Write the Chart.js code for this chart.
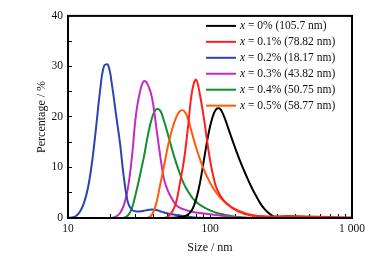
<!DOCTYPE html>
<html>
<head>
<meta charset="utf-8">
<script src="https://cdn.jsdelivr.net/npm/chart.js@4"></script>
<style>
html,body{margin:0;padding:0;background:#fff;}
#wrap{width:392px;height:260px;position:relative;}
</style>
</head>
<body>
<div id="wrap"><canvas id="c" width="392" height="260"></canvas></div>
<script>
// particle size grid (nm)
const sizes = [10.00,10.67,11.39,12.15,12.96,13.83,14.76,15.75,16.80,17.93,19.13,20.41,21.78,23.24,24.80,26.46,28.23,30.13,32.14,34.30,36.60,39.05,41.67,44.46,47.44,50.62,54.01,57.63,61.49,65.62,70.01,74.71,79.71,85.06,90.76,96.84,103.3,110.2,117.6,125.5,133.9,142.9,152.5,162.7,173.6,185.2,197.6,210.9,225.0,240.1,256.2,273.3,291.6,350,500,700,1000];

// percentage values per series
const x0 = [0,0,0,0,0,0,0,0,0,0,0,0,0,0,0,0,0,0,0,0,0,0,0,0,0,
  0.03,0.06,0.1,0.18,0.3,0.7,1.6,3.6,7.0,11.6,16.2,19.6,21.5,21.6,20.1,17.9,15.6,13.4,11.3,9.4,7.6,5.9,4.4,3.0,1.9,1.1,0.5,0.1,
  null,null,null,null];
const x01 = [0,0,0,0,0,0,0,0,0,0,0,0,0,0,0,0,0,0,0,0,0,0,0,0,0,
  0.3,1.2,3.0,7.0,11.5,18.0,25.0,27.4,24.3,19.6,14.0,9.4,6.2,4.5,3.4,2.6,2.0,1.55,1.15,0.85,0.65,0.5,0.42,0.36,0.33,0.32,0.32,0.33,
  0.4,0.3,0.2,0.1];
const x02 = [0,0.1,0.4,1.3,3.0,6.0,11.0,17.8,25.0,30.1,30.3,26.3,20.5,14.8,7.8,3.0,1.6,1.3,1.3,1.45,1.6,1.7,1.6,1.35,1.1,0.9,0.75,0.6,0.48,0.36,0.26,0.17,0.1,0.05,0.02,
  0,0,0,0,0,0,0,0,0,0,0,0,0,0,0,0,0,0,
  0,0,0,0];
const x03 = [0,0,0,0,0,0,0,0,0,0,0,
  0.05,0.3,1.0,2.6,6.0,12.2,20.5,25.0,27.1,26.3,23.8,18.4,12.6,7.7,5.3,3.8,2.6,2.0,1.7,1.45,1.25,1.1,1.0,0.88,0.77,0.67,0.57,0.48,0.4,0.32,0.24,0.16,0.08,0.03,
  0,0,0,0,0,0,0,0,
  0,0,0,0];
const x04 = [0,0,0,0,0,0,0,0,0,0,0,0,0,0,
  0.05,0.5,2.0,5.0,8.5,12.2,16.5,19.8,21.5,21.3,19.2,16.5,13.6,11.0,8.7,6.7,5.3,4.1,3.2,2.6,2.1,1.7,1.35,1.05,0.85,0.65,0.5,0.37,0.27,0.18,0.1,0.05,
  0,0,0,0,0,0,0,
  0,0,0,0];
const x05 = [0,0,0,0,0,0,0,0,0,0,0,0,0,0,0,0,0,0,0,0,
  0.05,0.7,2.7,6.4,10.3,14.3,17.5,19.8,21.2,21.2,19.6,16.8,14.0,11.6,9.5,7.8,6.3,5.1,4.1,3.3,2.7,2.1,1.7,1.35,1.05,0.8,0.6,0.45,0.35,0.27,0.2,0.15,0.1,
  0.03,0,0,0];

const dopings = ['0%','0.1%','0.2%','0.3%','0.4%','0.5%'];
const meanSizes = ['105.7','78.82','18.17','43.82','50.75','58.77'];
const seriesValues = [x0, x01, x02, x03, x04, x05];
const seriesColors = ['#000000','#ff1f1f','#2a44b2','#c42ac4','#128f30','#ff5a0a'];
const drawOrder = [2,0,3,4,5,1];

const xTickValues = [10, 100, 1000];
const xTickTexts = ['10', '100', '1 000'];
const yTickValues = [0, 10, 20, 30, 40];

const SERIF = '"Liberation Serif", "Times New Roman", serif';

const datasets = seriesValues.map((vals, i) => ({
  label: 'x = ' + dopings[i] + ' (' + meanSizes[i] + ' nm)',
  data: sizes.map((s, j) => ({x: s, y: vals[j]})),
  borderColor: seriesColors[i],
  backgroundColor: seriesColors[i],
  borderWidth: 2,
  pointRadius: 0,
  tension: 0.4,
  fill: false,
  spanGaps: false,
  order: drawOrder[i]
}));

const framePlugin = {
  id: 'frame',
  afterDatasetsDraw(chart) {
    const {ctx, chartArea: a} = chart;
    ctx.save();
    ctx.strokeStyle = '#000';
    ctx.lineWidth = 2;
    ctx.strokeRect(a.left, a.top, a.right - a.left, a.bottom - a.top);
    ctx.restore();
  }
};

const legendPlugin = {
  id: 'innerLegend',
  afterDatasetsDraw(chart) {
    const {ctx, chartArea: a} = chart;
    ctx.save();
    const x1 = a.right - 146, x2 = a.right - 116, tx = a.right - 112;
    for (let i = 0; i < dopings.length; i++) {
      const y = a.top + 10 + i * 15.95;
      ctx.strokeStyle = seriesColors[i];
      ctx.lineWidth = 2;
      ctx.beginPath();
      ctx.moveTo(x1, y);
      ctx.lineTo(x2, y);
      ctx.stroke();
      ctx.fillStyle = '#111';
      ctx.textBaseline = 'middle';
      ctx.textAlign = 'left';
      ctx.font = 'italic 11.5px ' + SERIF;
      ctx.fillText('x', tx, y);
      const w = ctx.measureText('x').width;
      ctx.font = '11.5px ' + SERIF;
      ctx.fillText(' = ' + dopings[i] + ' (' + meanSizes[i] + ' nm)', tx + w, y);
    }
    ctx.restore();
  }
};

new Chart(document.getElementById('c'), {
  type: 'line',
  data: {datasets},
  options: {
    responsive: false,
    animation: false,
    devicePixelRatio: 1,
    layout: {padding: {top: 12, right: 40, left: 0, bottom: 0}},
    plugins: {legend: {display: false}, tooltip: {enabled: false}},
    scales: {
      x: {
        type: 'logarithmic',
        min: 10, max: 1000,
        border: {display: true, color: '#000', width: 2},
        grid: {drawOnChartArea: false, drawTicks: true, tickLength: -4, color: '#000', tickWidth: 1},
        ticks: {
          autoSkip: false, maxRotation: 0, padding: 8, color: '#111',
          font: {family: SERIF, size: 11.5},
          callback: (v) => { const k = xTickValues.indexOf(Number(v)); return k >= 0 ? xTickTexts[k] : ''; }
        },
        title: {display: true, text: 'Size / nm', color: '#111', font: {family: SERIF, size: 12}, padding: {top: 0, bottom: 5}},
        afterFit: (s) => { s.height = 42; }
      },
      y: {
        type: 'linear',
        min: 0, max: 40,
        border: {display: true, color: '#000', width: 2},
        grid: {drawOnChartArea: false, drawTicks: true, tickLength: -4, color: '#000', tickWidth: 1},
        ticks: {
          stepSize: 5, padding: 9, color: '#111',
          font: {family: SERIF, size: 11.5},
          callback: (v) => yTickValues.includes(v) ? String(v) : ''
        },
        title: {display: true, text: 'Percentage / %', color: '#111', font: {family: SERIF, size: 12}, padding: {top: 35, bottom: 0}},
        afterFit: (s) => { s.width = 68; }
      }
    }
  },
  plugins: [framePlugin, legendPlugin]
});
</script>
</body>
</html>
